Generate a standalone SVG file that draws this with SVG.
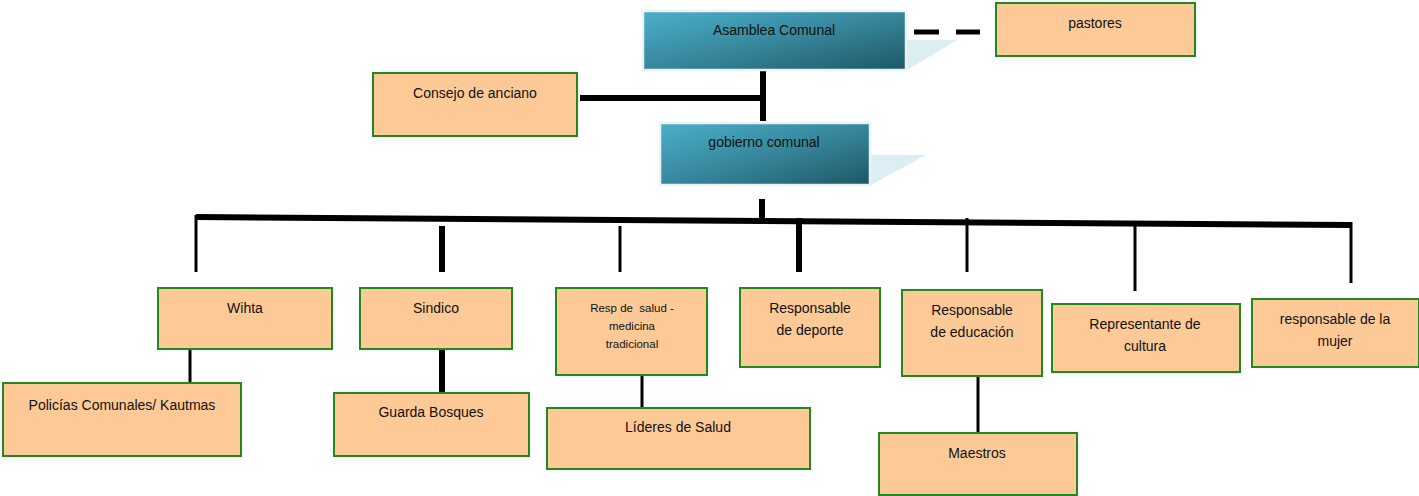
<svg xmlns="http://www.w3.org/2000/svg" width="1419" height="496" viewBox="0 0 1419 496">
<defs>
<linearGradient id="teal" x1="0" y1="0" x2="1" y2="1">
<stop offset="0" stop-color="#4bb0cb"/>
<stop offset="0.5" stop-color="#37879c"/>
<stop offset="1" stop-color="#1f5765"/>
</linearGradient>
<style>
.org{fill:#fdca97;stroke:#1f8b1f;stroke-width:2}
.teal{fill:url(#teal);stroke:#eaf2f4;stroke-width:2.5}
.shadow{fill:#dbeef3}
.t{font-family:"Liberation Sans",Arial,sans-serif;font-size:14px;fill:#111;text-anchor:middle}
.s{font-size:11.5px;white-space:pre}
.c{stroke:#000;fill:none}
.w6{stroke-width:6}
.w5{stroke-width:5}
.w3{stroke-width:3}
</style>
</defs>
<g id="connectors">
<line class="c w5" x1="914" y1="32" x2="939" y2="32"/>
<line class="c w5" x1="956" y1="32" x2="980" y2="32"/>
<line class="c w6" x1="763" y1="71" x2="763" y2="121"/>
<line class="c w6" x1="580" y1="98" x2="763" y2="98"/>
<line class="c w6" x1="762" y1="199" x2="762" y2="218"/>
<line class="c w6" x1="196" y1="217" x2="1352" y2="225"/>
<line class="c w3" x1="196" y1="215" x2="196" y2="272"/>
<line class="c w6" x1="442" y1="226" x2="442" y2="272"/>
<line class="c w3" x1="620" y1="226" x2="620" y2="272"/>
<line class="c w6" x1="799" y1="218" x2="799" y2="272"/>
<line class="c w3" x1="967" y1="218" x2="967" y2="272"/>
<line class="c w3" x1="1135" y1="224" x2="1135" y2="291"/>
<line class="c w3" x1="1351" y1="222" x2="1351" y2="283"/>
<line class="c w3" x1="190" y1="349" x2="190" y2="387"/>
<line class="c w6" x1="442" y1="349" x2="442" y2="396"/>
<line class="c w3" x1="642" y1="369" x2="642" y2="408"/>
<line class="c w3" x1="978" y1="372" x2="978" y2="437"/>
</g>
<g id="asamblea">
<polygon class="shadow" points="906,40 957,40 907,70"/>
<rect class="teal" x="643" y="11" width="263" height="59"/>
<text class="t" x="774" y="35">Asamblea Comunal</text>
</g>
<g id="pastores">
<rect class="org" x="996" y="3" width="199" height="53"/>
<text class="t" x="1095" y="28">pastores</text>
</g>
<g id="consejo">
<rect class="org" x="373" y="73" width="204" height="63"/>
<text class="t" x="475" y="98">Consejo de anciano</text>
</g>
<g id="gobierno">
<polygon class="shadow" points="870,155 926,155 871,185"/>
<rect class="teal" x="660" y="123" width="210" height="62"/>
<text class="t" x="764" y="147">gobierno comunal</text>
</g>
<g id="wihta">
<rect class="org" x="158" y="288" width="174" height="61"/>
<text class="t" x="245" y="313">Wihta</text>
</g>
<g id="policias">
<rect class="org" x="3" y="383" width="238" height="73"/>
<text class="t" x="122" y="410">Policías Comunales/ Kautmas</text>
</g>
<g id="sindico">
<rect class="org" x="360" y="288" width="152" height="61"/>
<text class="t" x="436" y="313">Sindico</text>
</g>
<g id="guarda">
<rect class="org" x="334" y="393" width="195" height="63"/>
<text class="t" x="431" y="417">Guarda Bosques</text>
</g>
<g id="salud">
<rect class="org" x="556" y="288" width="151" height="87"/>
<text class="t s" x="632" y="312">Resp de  salud -</text>
<text class="t s" x="632" y="330">medicina</text>
<text class="t s" x="632" y="348">tradicional</text>
</g>
<g id="lideres">
<rect class="org" x="547" y="408" width="263" height="61"/>
<text class="t" x="678" y="432">Líderes de Salud</text>
</g>
<g id="deporte">
<rect class="org" x="740" y="288" width="140" height="79"/>
<text class="t" x="810" y="313">Responsable</text>
<text class="t" x="810" y="335">de deporte</text>
</g>
<g id="educacion">
<rect class="org" x="902" y="290" width="140" height="86"/>
<text class="t" x="972" y="315">Responsable</text>
<text class="t" x="972" y="337">de educación</text>
</g>
<g id="maestros">
<rect class="org" x="879" y="433" width="198" height="62"/>
<text class="t" x="977" y="458">Maestros</text>
</g>
<g id="cultura">
<rect class="org" x="1052" y="304" width="188" height="68"/>
<text class="t" x="1145" y="329">Representante de</text>
<text class="t" x="1145" y="351">cultura</text>
</g>
<g id="mujer">
<rect class="org" x="1252" y="299" width="167" height="68"/>
<text class="t" x="1335" y="324">responsable de la</text>
<text class="t" x="1335" y="346">mujer</text>
</g>
</svg>
